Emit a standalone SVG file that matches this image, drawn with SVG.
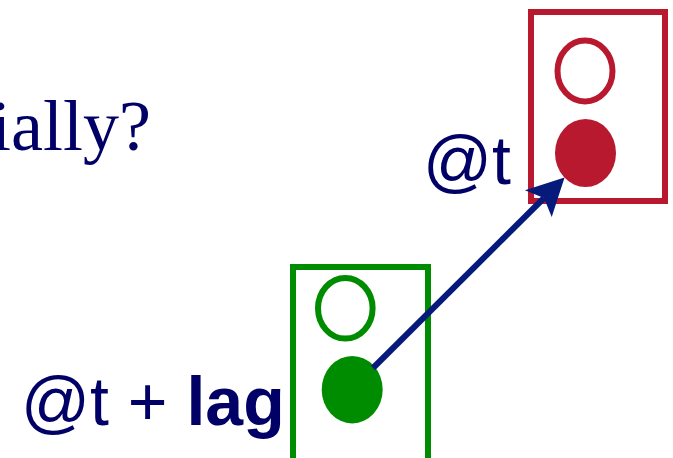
<svg xmlns="http://www.w3.org/2000/svg" width="673" height="458" viewBox="0 0 673 458">
<style>
.lbl{font-family:"Liberation Sans",Arial,sans-serif;font-size:68px;fill:#000066}
.ser{font-family:"Liberation Serif","Times New Roman",serif;font-size:72px;fill:#000066}
.red{stroke:#B8192F;stroke-width:6;fill:none}
.grn{stroke:#008C00;stroke-width:6;fill:none}
.conn{stroke:#061A7C;stroke-width:6;fill:none}
</style>
<defs>
<marker id="ah" markerUnits="userSpaceOnUse" viewBox="-40 -22 44 44" refX="-29" refY="0" markerWidth="44" markerHeight="44" orient="auto">
<path d="M0,0 L-37,-19 L-29,0 L-37,19 Z" fill="#061A7C"/>
</marker>
</defs>
<rect width="673" height="458" fill="#ffffff"/>
<text class="ser" x="-9" y="150">ially?</text>
<g id="node-red">
<rect class="red" x="531" y="12" width="134" height="189"/>
<ellipse class="red" cx="585" cy="71" rx="27.5" ry="30.5" stroke-width="5.5"/>
<ellipse cx="585.5" cy="153" rx="30.5" ry="34" fill="#B8192F"/>
<text class="lbl" x="423" y="184">@t</text>
</g>
<g id="node-green">
<rect class="grn" x="293" y="267" width="135" height="200"/>
<ellipse class="grn" cx="345.3" cy="308.3" rx="27.3" ry="30.3" stroke-width="5.5"/>
<ellipse cx="352.2" cy="389.7" rx="30.5" ry="33.7" fill="#008C00"/>
<text class="lbl" x="21" y="425">@t + <tspan font-weight="bold">lag</tspan></text>
</g>
<g id="connectors">
<line class="conn" x1="373" y1="368" x2="544" y2="198" marker-end="url(#ah)"/>
</g>
</svg>
